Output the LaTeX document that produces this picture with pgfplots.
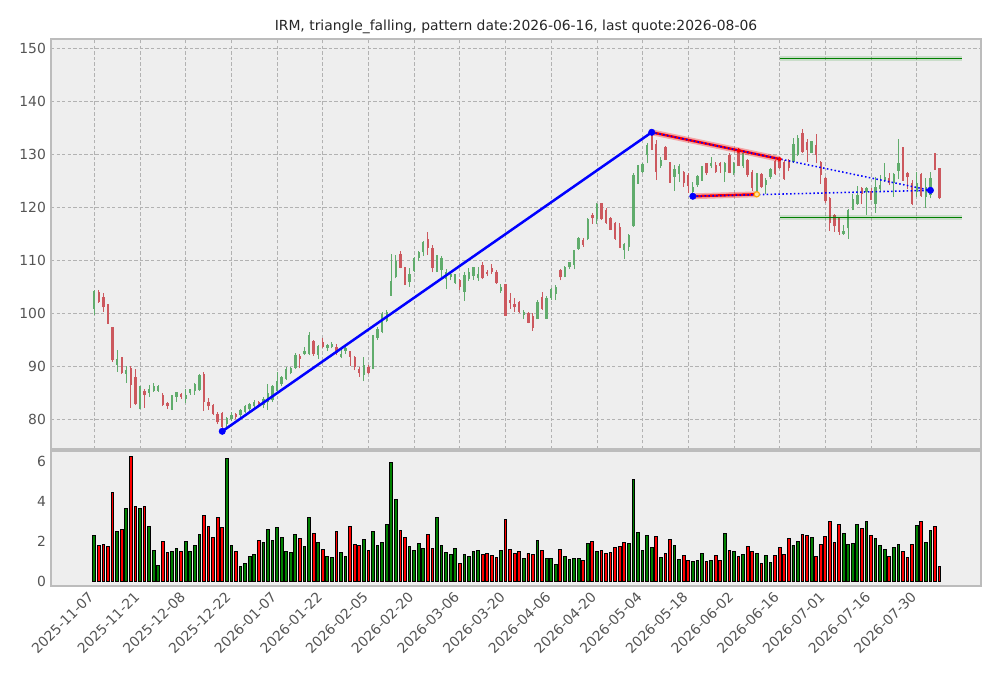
\documentclass[border=0pt]{standalone}
\usepackage{pgfplots}
\pgfplotsset{compat=1.18}
\usepackage{pgfplotstable}
\usepackage{fontspec}
\setmainfont{DejaVu Sans}
\definecolor{cup}{RGB}{96,172,108}
\definecolor{cdn}{RGB}{204,88,94}
\definecolor{vup}{RGB}{0,128,0}
\definecolor{vdn}{RGB}{255,0,0}
\definecolor{bg}{RGB}{238,238,238}
\definecolor{gridc}{RGB}{178,178,178}
\definecolor{spine}{RGB}{188,188,188}
\definecolor{tickc}{RGB}{85,85,85}
\definecolor{lgreen}{RGB}{0,128,0}
\definecolor{orng}{RGB}{255,165,0}

\pgfplotstableread{
x o h l c v u
0 100.9 104.4 99.7 104.2 2.28 1
1 104.1 104.4 102.0 102.2 1.78 0
2 103.1 103.8 100.3 101.1 1.83 0
3 101.4 101.8 98.0 98.1 1.73 0
4 97.5 97.5 90.9 91.1 4.43 0
5 90.3 93.1 89.0 91.4 2.50 1
6 91.7 91.7 88.6 88.7 2.58 0
7 88.6 90.1 86.9 89.3 3.63 1
8 89.6 90.1 82.2 86.5 6.23 0
9 87.9 89.4 82.7 82.9 3.72 0
10 82.9 86.3 81.9 84.9 3.63 1
11 85.4 85.7 82.2 84.6 3.72 0
12 85.0 86.5 84.3 85.8 2.73 1
13 85.4 86.9 85.2 86.3 1.53 1
14 85.4 86.5 85.2 86.3 0.78 1
15 84.6 84.9 82.5 82.7 1.98 0
16 83.1 83.3 81.9 82.5 1.43 0
17 82.7 84.6 81.8 84.4 1.48 1
18 84.3 85.2 83.3 85.2 1.63 1
19 84.8 85.0 83.8 84.2 1.48 0
20 83.8 85.7 83.1 84.6 1.98 1
21 84.9 85.8 84.6 85.7 1.48 1
22 85.4 86.9 84.6 86.7 1.78 1
23 85.5 88.6 85.4 88.4 2.33 1
24 88.6 89.0 81.6 83.3 3.28 0
25 83.3 84.0 81.8 82.5 2.73 0
26 82.7 82.9 80.8 81.0 2.18 0
27 81.0 81.3 79.1 79.4 3.18 0
28 81.1 81.3 77.7 78.6 2.68 0
29 79.2 80.5 78.5 80.2 6.13 1
30 80.0 81.3 79.6 80.8 1.78 1
31 81.0 81.1 80.0 80.4 1.48 0
32 80.8 81.9 80.5 81.8 0.73 1
33 81.4 82.7 81.1 82.5 0.88 1
34 81.9 83.0 81.6 82.9 1.23 1
35 82.5 83.6 82.2 83.3 1.33 1
36 83.3 83.5 82.3 82.7 2.03 0
37 82.7 84.2 82.1 83.8 1.93 1
38 83.2 86.6 81.8 84.9 2.58 1
39 83.6 86.5 83.3 86.2 2.03 1
40 85.3 89.0 85.1 87.2 2.68 1
41 86.6 88.1 86.2 87.9 2.18 1
42 87.6 89.9 87.4 89.5 1.48 1
43 88.8 89.9 88.5 89.6 1.43 1
44 89.7 92.6 89.5 92.1 2.33 1
45 92.0 92.3 89.6 91.4 2.13 0
46 92.3 93.7 92.1 92.9 1.73 1
47 92.3 96.5 92.1 96.0 3.18 1
48 94.8 95.0 92.0 92.4 2.38 0
49 92.1 94.0 91.4 93.9 1.93 1
50 94.5 95.3 93.5 93.7 1.58 0
51 93.4 94.3 92.9 94.0 1.23 1
52 93.7 94.6 93.4 94.2 1.18 1
53 93.7 94.3 92.1 92.5 2.48 0
54 91.8 93.3 91.5 92.4 1.43 1
55 92.9 94.0 92.4 93.5 1.23 1
56 92.8 92.9 90.1 91.8 2.73 0
57 91.8 92.0 89.3 89.9 1.83 0
58 89.5 89.9 88.0 88.7 1.78 0
59 88.4 91.8 87.2 90.2 2.08 1
60 89.9 90.2 88.5 88.7 1.53 0
61 90.7 96.0 89.5 95.9 2.48 1
62 95.4 97.5 95.0 97.1 1.78 1
63 96.5 100.3 96.2 99.8 1.93 1
64 98.5 100.6 98.3 100.2 2.83 1
65 103.3 111.1 103.3 106.1 5.93 1
66 106.9 111.0 106.6 109.9 4.08 1
67 111.1 111.7 108.5 108.6 2.53 0
68 108.6 108.8 105.3 106.0 2.18 0
69 106.0 108.5 105.0 107.4 1.73 1
70 108.0 110.7 107.7 110.4 1.53 1
71 110.4 111.7 109.9 111.5 1.88 1
72 111.5 113.6 110.9 113.4 1.63 1
73 114.0 115.4 111.0 112.4 2.33 0
74 112.4 112.8 107.7 108.5 1.63 0
75 108.5 111.0 107.8 110.7 3.18 1
76 108.2 110.8 106.8 110.4 1.78 1
77 106.4 108.3 104.5 107.8 1.43 1
78 106.8 107.9 106.2 107.5 1.33 1
79 105.8 107.5 105.6 107.4 1.63 1
80 106.3 106.4 104.4 104.9 0.88 0
81 104.1 107.7 102.4 107.2 1.33 1
82 106.4 108.6 106.1 107.8 1.23 1
83 107.0 108.8 106.3 108.7 1.48 1
84 106.6 108.8 106.1 107.4 1.53 1
85 109.1 109.7 106.4 106.6 1.33 0
86 107.8 108.2 107.0 107.5 1.38 0
87 108.5 109.3 107.5 107.8 1.28 0
88 107.7 108.2 105.6 105.7 1.18 0
89 104.3 105.6 103.9 105.0 1.53 1
90 105.5 105.6 99.4 99.5 3.08 0
91 102.5 103.9 100.9 101.9 1.58 0
92 101.8 102.9 100.3 101.1 1.38 0
93 102.2 102.4 100.1 100.3 1.48 0
94 99.7 100.6 99.0 100.3 1.13 1
95 100.1 100.3 98.1 98.2 1.38 0
96 99.5 100.1 96.7 97.3 1.33 0
97 98.9 102.5 98.9 102.2 2.03 1
98 103.1 104.1 100.6 100.9 1.53 0
99 99.0 103.2 98.9 102.8 1.13 1
100 102.8 104.7 102.5 104.5 1.13 1
101 103.6 105.3 102.5 104.9 0.83 1
102 108.2 108.3 106.2 106.8 1.58 0
103 106.9 108.9 106.8 108.8 1.23 1
104 108.7 109.7 108.3 109.6 1.08 1
105 109.1 111.9 108.3 111.9 1.13 1
106 112.1 114.4 112.0 114.3 1.13 1
107 113.9 114.3 112.6 112.9 1.03 0
108 114.1 117.9 113.8 117.7 1.88 1
109 118.5 118.9 116.9 117.9 1.98 0
110 117.7 120.9 116.9 120.6 1.48 1
111 120.9 120.9 117.6 117.7 1.53 0
112 119.4 119.8 116.9 117.1 1.38 0
113 117.9 118.2 115.7 115.8 1.43 0
114 117.1 117.3 113.9 114.1 1.68 0
115 116.3 117.0 112.3 112.4 1.73 0
116 111.9 113.2 110.2 113.1 1.93 0
117 112.6 115.0 111.8 114.8 1.88 1
118 116.4 126.4 116.3 126.1 5.08 1
119 126.5 128.0 124.4 127.2 2.43 1
120 126.7 128.4 126.5 128.2 1.53 1
121 129.9 132.1 128.3 131.8 2.28 1
122 133.6 134.15 130.9 130.9 1.68 1
123 131.9 132.7 125.2 126.7 2.23 0
124 127.8 129.4 127.5 128.9 1.18 1
125 131.4 131.6 128.9 129.0 1.38 0
126 128.3 128.6 124.6 126.1 2.08 0
127 125.8 128.0 123.1 127.2 1.78 1
128 126.3 128.2 124.8 127.8 1.08 1
129 126.7 126.9 123.9 124.5 1.28 0
130 126.1 126.4 122.7 124.0 1.03 0
131 122.9 124.8 122.08 123.9 0.98 1
132 124.2 126.1 123.9 125.9 1.03 1
133 125.8 127.7 125.0 127.4 1.38 1
134 128.3 128.4 126.1 126.4 0.98 0
135 127.8 129.4 127.4 128.4 1.03 1
136 128.0 128.6 126.5 126.7 1.28 0
137 128.4 128.6 126.5 127.8 1.03 0
138 126.7 128.6 124.8 128.4 2.38 1
139 129.9 130.2 126.4 126.5 1.53 0
140 126.5 128.6 126.1 128.4 1.48 1
141 130.7 130.8 127.8 127.8 1.23 0
142 127.7 130.3 127.5 130.2 1.33 1
143 129.0 129.2 125.8 126.1 1.73 0
144 126.7 127.0 123.1 123.6 1.48 0
145 122.9 126.4 122.45 126.4 1.38 1
146 126.3 126.4 123.6 123.9 0.88 0
147 124.2 125.5 122.6 125.2 1.28 1
148 125.7 127.5 125.3 127.2 0.93 1
149 128.8 129.0 126.1 126.3 1.28 0
150 129.0 129.1 127.2 127.4 1.68 0
151 128.6 128.9 125.2 125.3 1.33 0
152 129.0 129.2 126.8 127.4 2.13 0
153 128.6 133.0 128.4 131.9 1.78 1
154 129.9 133.6 129.7 133.0 1.98 1
155 134.1 134.7 130.3 130.5 2.33 0
156 132.4 132.8 128.6 130.8 2.28 0
157 130.3 132.6 130.2 132.6 2.18 1
158 131.8 133.8 128.3 129.9 1.23 0
159 128.6 128.8 124.4 126.1 1.83 0
160 125.6 125.8 120.9 121.1 2.23 0
161 121.7 121.9 115.6 117.0 2.98 0
162 118.5 118.8 115.4 116.4 1.93 0
163 117.9 118.1 114.8 115.4 2.83 0
164 115.0 116.7 114.8 115.6 2.38 1
165 116.0 119.6 114.1 119.5 1.83 1
166 119.5 122.6 119.4 121.5 1.88 1
167 120.6 124.0 120.5 122.3 2.83 1
168 123.6 123.9 120.6 122.6 2.63 0
169 122.9 123.9 118.5 123.6 2.98 1
170 123.1 123.6 121.3 121.4 2.28 0
171 120.7 125.7 119.0 123.8 2.13 1
172 123.4 126.1 123.1 124.2 1.78 1
173 125.2 128.4 124.8 125.7 1.58 1
174 125.5 126.4 124.2 124.5 1.23 0
175 124.6 126.4 122.0 126.3 1.68 1
176 126.9 132.8 125.3 128.3 1.83 1
177 129.7 131.4 125.0 126.7 1.48 0
178 126.5 126.7 123.4 125.7 1.18 0
179 124.5 125.1 120.4 120.6 1.83 0
180 122.9 126.7 121.9 124.6 2.78 1
181 126.3 126.4 122.0 122.1 2.98 0
182 122.0 125.5 119.8 123.9 1.93 1
183 122.3 126.6 121.7 125.5 2.53 1
184 128.9 130.2 127.0 127.2 2.73 0
185 127.4 127.4 121.5 121.7 0.73 0
}\data

\pgfplotsset{base/.style={
  scale only axis, width=669.6pt,
  xmin=-9.48, xmax=194.07,
  axis background/.style={fill=bg},
  axis line style={spine, line width=1.1pt},
  major tick length=0pt,
  ticklabel style={font=\fontsize{10}{12}\selectfont, text=tickc},
  /pgf/number format/assume math mode=true,
  xtick={0,10,...,180},
  yticklabel style={anchor=east, inner sep=0pt, xshift=-3.5pt},
},
candle/.style 2 args={draw=none, mark=none, forget plot, error bars/.cd, y dir=plus, y explicit, error mark=none,
  error bar style={line width=#1, draw=#2}},
}

\begin{document}
\begin{tikzpicture}
\useasboundingbox (0,0) rectangle (720.72pt,488.16pt);
\node[font=\fontsize{10}{12}\selectfont, text=black!85] at (371.5pt,469.0pt)
  {IRM, triangle\_falling, pattern date:2026-06-16, last quote:2026-08-06};

\begin{axis}[base, at={(36.72pt,164.88pt)}, anchor=south west, height=295.2pt,
  ymin=74.4, ymax=151.75, ytick={80,90,...,150}, xticklabels={},
  grid=major, major grid style={gridc, line width=0.5pt, dash pattern=on 2.4pt off 1.6pt}]
% wicks
\addplot[candle={0.75pt}{cup}]
  table[x=x, y=l, y error plus expr={(\thisrow{c}>=\thisrow{o})*(\thisrow{h}-\thisrow{l})}] {\data};
\addplot[candle={0.75pt}{cdn}]
  table[x=x, y=l, y error plus expr={(\thisrow{c}<\thisrow{o})*(\thisrow{h}-\thisrow{l})}] {\data};
% bodies
\addplot[candle={1.7pt}{cup}]
  table[x=x, y=o, y error plus expr={(\thisrow{c}>=\thisrow{o})*(\thisrow{c}-\thisrow{o})}] {\data};
\addplot[candle={1.7pt}{cdn}]
  table[x=x, y=c, y error plus expr={(\thisrow{c}<\thisrow{o})*(\thisrow{o}-\thisrow{c})}] {\data};
% pattern lines
\addplot[blue, line width=1.8pt, mark=none] coordinates {(28,77.74) (122,134.15)};
\addplot[red, opacity=0.3, line width=4.2pt] coordinates {(122,134.15) (141,130.74) (150,129.1)};
\addplot[red, line width=1.8pt] coordinates {(122,134.15) (141,130.74) (150,129.1)};
\addplot[red, opacity=0.3, line width=4.2pt] coordinates {(131,122.08) (145,122.45)};
\addplot[red, line width=1.8pt] coordinates {(131,122.08) (145,122.45)};
\addplot[blue, line width=1.1pt, dash pattern=on 1.1pt off 1.7pt] coordinates {(122,134.15) (183,123.2)};
\addplot[blue, line width=1.1pt, dash pattern=on 1.1pt off 1.7pt] coordinates {(131,122.08) (183,123.2)};
\addplot[lgreen, opacity=0.15, line width=3.2pt] coordinates {(150,148.1) (190,148.1)};
\addplot[lgreen, line width=1.0pt] coordinates {(150,148.1) (190,148.1)};
\addplot[lgreen, opacity=0.15, line width=3.2pt] coordinates {(150,118.1) (190,118.1)};
\addplot[lgreen, line width=1.0pt] coordinates {(150,118.1) (190,118.1)};
\addplot[only marks, mark=*, mark size=1.4pt, mark options={draw=red, fill=red}] coordinates {(141,130.74) (150,129.1)};
\addplot[only marks, mark=*, mark size=1.9pt, mark options={draw=orng, fill=orng!35, line width=0.8pt}] coordinates {(145,122.45)};
\addplot[only marks, mark=*, mark size=2.3pt, mark options={draw=blue, fill=blue}] coordinates {(28,77.74) (122,134.15) (131,122.08) (183,123.2)};
\end{axis}

\begin{axis}[base, at={(36.72pt,66.24pt)}, anchor=south west, height=97.2pt,
  ymin=-0.25, ymax=6.5, ytick={0,2,4,6},
  xticklabels={2025-11-07,2025-11-21,2025-12-08,2025-12-22,2026-01-07,2026-01-22,2026-02-05,2026-02-20,2026-03-06,2026-03-20,2026-04-06,2026-04-20,2026-05-04,2026-05-18,2026-06-02,2026-06-16,2026-07-01,2026-07-16,2026-07-30},
  xticklabel style={xshift=-5pt, yshift=-3pt, rotate=45, anchor=north east, inner sep=0pt}]
\addplot[ybar, bar width=0.6, bar shift=0pt, fill=vup, draw=black, line width=0.7pt]
  table[x=x, y expr={\thisrow{u}*\thisrow{v}}] {\data};
\addplot[ybar, bar width=0.6, bar shift=0pt, fill=vdn, draw=black, line width=0.7pt]
  table[x=x, y expr={(1-\thisrow{u})*\thisrow{v}}] {\data};
\end{axis}
\end{tikzpicture}
\end{document}
